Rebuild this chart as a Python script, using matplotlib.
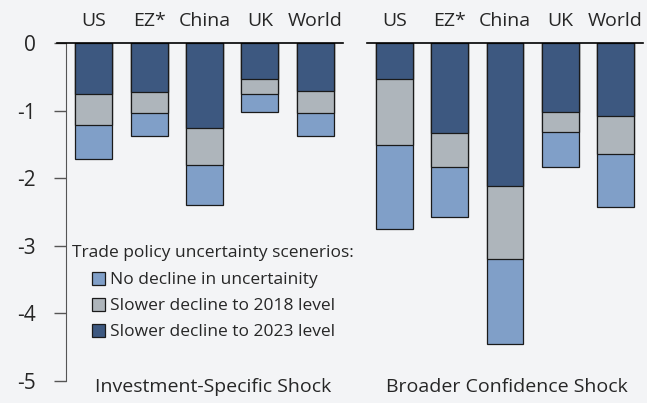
import numpy as np
import matplotlib.pyplot as plt
from matplotlib.patches import Patch

plt.rcParams['font.family'] = ['Open Sans', 'DejaVu Sans']
plt.rcParams['axes.unicode_minus'] = False

countries = ["US", "EZ*", "China", "UK", "World"]
panels = ["Investment-Specific Shock", "Broader Confidence Shock"]

# impact by scenario (levels)
no_decline = [[-1.71, -1.38, -2.40, -1.02, -1.38],
              [-2.75, -2.57, -4.45, -1.84, -2.42]]
to_2018 = [[-1.21, -1.03, -1.80, -0.76, -1.03],
           [-1.51, -1.84, -3.19, -1.31, -1.64]]
to_2023 = [[-0.75, -0.73, -1.25, -0.53, -0.71],
           [-0.53, -1.33, -2.12, -1.02, -1.08]]

labels = ["No decline in uncertainity", "Slower decline to 2018 level",
          "Slower decline to 2023 level"]
colors = ["#809FC8", "#AEB5BB", "#3D5880"]
bg = "#F3F4F6"
txt = "#262626"

W, H = 647, 403
fig = plt.figure(figsize=(W / 100, H / 100), dpi=100, facecolor=bg)

boxes = [(66, 343), (367, 643)]
top, bottom = 43, 381
x = np.arange(len(countries))

for i, (x0, x1) in enumerate(boxes):
    aw, ah = x1 - x0, bottom - top
    ax = fig.add_axes([x0 / W, 1 - bottom / H, aw / W, ah / H])
    ax.set_facecolor(bg)
    for vals, c in zip([no_decline[i], to_2018[i], to_2023[i]], colors):
        ax.bar(x, vals, width=0.67, color=c, edgecolor="#1a1a1a", linewidth=0.9)
    ax.set_xlim(-0.5, 4.5)
    ax.set_ylim(-5, 0)
    ax.xaxis.tick_top()
    ax.set_xticks(x)
    ax.set_xticklabels(countries, fontsize=14, color=txt)
    ax.tick_params(axis="x", length=0, pad=9)
    for s in ["top", "right", "bottom"]:
        ax.spines[s].set_visible(False)
    ext = 9 / aw if i == 0 else 0
    ax.axhline(0, xmin=-ext, xmax=1, color="black", lw=1.2, clip_on=False, zorder=5)
    if i == 0:
        ax.spines["left"].set_color("#555555")
        ax.set_yticks([0, -1, -2, -3, -4, -5])
        ax.set_yticklabels(["0", "-1", "-2", "-3", "-4", "-5"])
        ax.tick_params(axis="y", direction="out", length=9, width=1, color="#555555",
                       labelsize=15, pad=13, labelcolor=txt)
        ax.text((72 - x0) / aw, (bottom - 253) / ah, "Trade policy uncertainty scenerios:",
                transform=ax.transAxes, ha="left", va="center", fontsize=12.5, color=txt)
        handles = [Patch(facecolor=c, edgecolor="#1a1a1a", lw=0.9) for c in colors]
        leg = ax.legend(handles, labels, loc="upper left",
                        bbox_to_anchor=((92 - x0) / aw, (bottom - 272) / ah), frameon=False,
                        fontsize=12.5, handlelength=0.75, handleheight=0.75,
                        handletextpad=0.3, labelspacing=0.55, borderpad=0.0,
                        borderaxespad=0.0)
        for t in leg.get_texts():
            t.set_color(txt)
    else:
        ax.spines["left"].set_visible(False)
        ax.set_yticks([])
    cx = (213.5 - x0) / aw if i == 0 else (507 - x0) / aw
    ax.text(cx, -(392 - bottom) / ah, panels[i], transform=ax.transAxes, ha="center",
            va="baseline", fontsize=14, color=txt)

fig.savefig("out.png", dpi=100, facecolor=bg)
